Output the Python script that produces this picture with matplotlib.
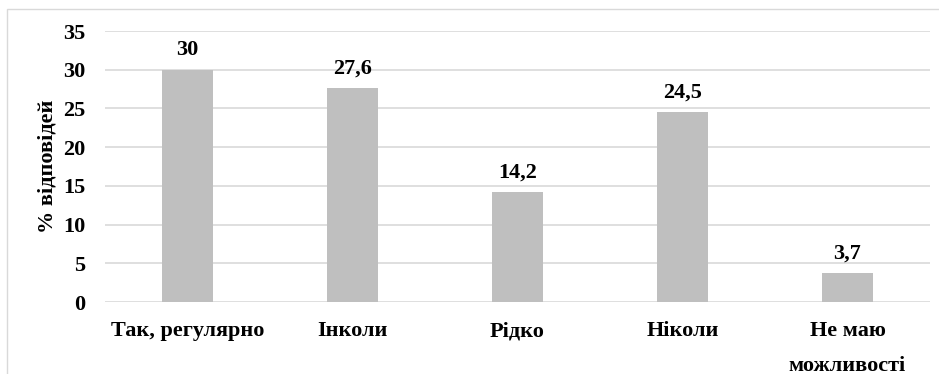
import matplotlib
matplotlib.use('Agg')
import matplotlib.pyplot as plt
from matplotlib.patches import Rectangle

# Дані опитування
categories = ['Так, регулярно', 'Інколи', 'Рідко', 'Ніколи', 'Не маю\nможливості']
values = [30, 27.6, 14.2, 24.5, 3.7]
value_labels = ['30', '27,6', '14,2', '24,5', '3,7']
y_ticks = [0, 5, 10, 15, 20, 25, 30, 35]

plt.rcParams['font.family'] = ['Liberation Serif', 'DejaVu Serif']
plt.rcParams['font.weight'] = 'bold'
FS = 16

fig = plt.figure(figsize=(9.39, 3.74), dpi=100)
ax = fig.add_axes([0.1118, 0.1925, 0.8786, 0.7245])

x = range(len(categories))
ax.bar(x, values, width=0.31, color='#BFBFBF', zorder=3)

for xi, v, lab in zip(x, values, value_labels):
    ax.annotate(lab, (xi, v), xytext=(0, 7), textcoords='offset points',
                ha='center', va='bottom', fontsize=FS, fontweight='bold')

ax.set_xlim(-0.5, len(categories) - 0.5)
ax.set_ylim(0, 35)
ax.set_yticks(y_ticks)
ax.set_yticklabels([str(t) for t in y_ticks], fontsize=FS, fontweight='bold')
ax.set_xticks(list(x))
ax.set_xticklabels(categories, fontsize=FS, fontweight='bold', linespacing=1.95)
ax.tick_params(axis='x', length=0, pad=14)
ax.tick_params(axis='y', length=0, pad=14)
ax.grid(axis='y', color='#D9D9D9', linewidth=1.2, zorder=0)
for s in ax.spines.values():
    s.set_visible(False)
ax.set_ylabel('% відповідей', fontsize=FS, fontweight='bold', labelpad=4)

# рамка області діаграми
fig.patches.append(Rectangle((7 / 939, -0.1), 1.1, 1 - 9 / 374 + 0.1,
                             transform=fig.transFigure, fill=False,
                             edgecolor='#D9D9D9', linewidth=1.0))

fig.savefig('out.png', dpi=100)
